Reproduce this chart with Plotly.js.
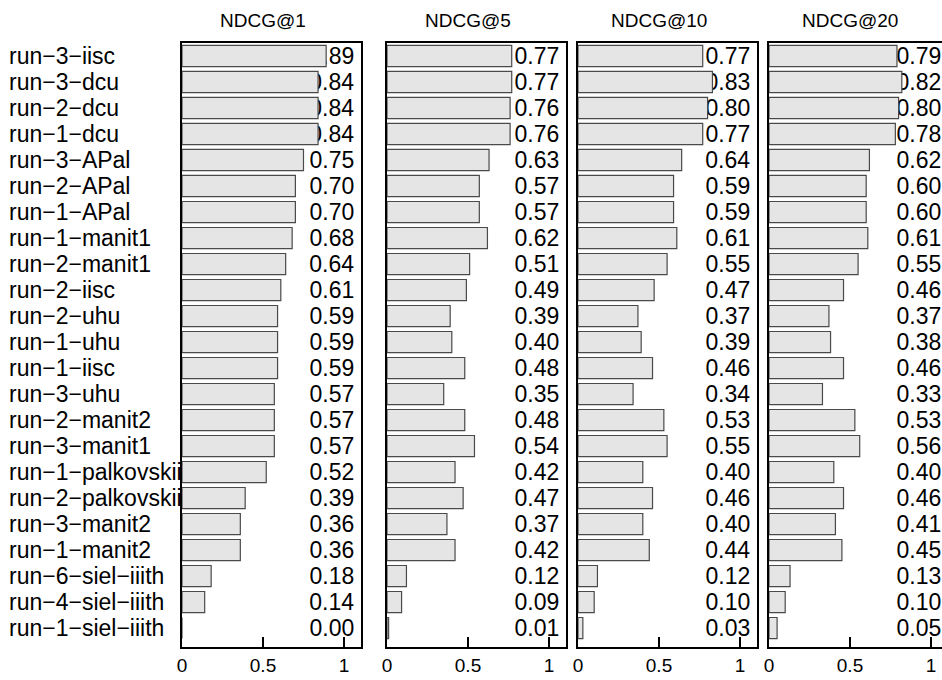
<!DOCTYPE html>
<html>
<head>
<meta charset="utf-8">
<script src="https://cdn.plot.ly/plotly-3.0.1.min.js"></script>
<style>
html,body{margin:0;padding:0;overflow:hidden;background:#fff;}
#chart{width:950px;height:680px;}
</style>
</head>
<body>
<div id="chart"></div>
<script>
const categories = [
  "run\u22123\u2212iisc","run\u22123\u2212dcu","run\u22122\u2212dcu","run\u22121\u2212dcu",
  "run\u22123\u2212APal","run\u22122\u2212APal","run\u22121\u2212APal","run\u22121\u2212manit1",
  "run\u22122\u2212manit1","run\u22122\u2212iisc","run\u22122\u2212uhu","run\u22121\u2212uhu",
  "run\u22121\u2212iisc","run\u22123\u2212uhu","run\u22122\u2212manit2","run\u22123\u2212manit1",
  "run\u22121\u2212palkovskii","run\u22122\u2212palkovskii","run\u22123\u2212manit2","run\u22121\u2212manit2",
  "run\u22126\u2212siel\u2212iiith","run\u22124\u2212siel\u2212iiith","run\u22121\u2212siel\u2212iiith"
];
const ndcg1  = [0.89,0.84,0.84,0.84,0.75,0.70,0.70,0.68,0.64,0.61,0.59,0.59,0.59,0.57,0.57,0.57,0.52,0.39,0.36,0.36,0.18,0.14,0.00];
const ndcg5  = [0.77,0.77,0.76,0.76,0.63,0.57,0.57,0.62,0.51,0.49,0.39,0.40,0.48,0.35,0.48,0.54,0.42,0.47,0.37,0.42,0.12,0.09,0.01];
const ndcg10 = [0.77,0.83,0.80,0.77,0.64,0.59,0.59,0.61,0.55,0.47,0.37,0.39,0.46,0.34,0.53,0.55,0.40,0.46,0.40,0.44,0.12,0.10,0.03];
const ndcg20 = [0.79,0.82,0.80,0.78,0.62,0.60,0.60,0.61,0.55,0.46,0.37,0.38,0.46,0.33,0.53,0.56,0.40,0.46,0.41,0.45,0.13,0.10,0.05];
const panelTitles = ["NDCG@1","NDCG@5","NDCG@10","NDCG@20"];
const tickVals = [0,0.5,1];
const tickText = ["0","0.5","1"];

const series = [ndcg1, ndcg5, ndcg10, ndcg20];
const W = 950, H = 680;
const panelPx = [[182,361],[387,566],[578,757],[769,948]];
const xRange = [0, 1.105];
const labelX = 1.082;
const yDom = [1 - 647/H, 1 - 43/H];
const yRange = [22.73, -0.5];
const FONT = "Liberation Sans, Arial, sans-serif";

const traces = [];
const layout = {
  width: W, height: H,
  margin: {l:0, r:0, t:0, b:0},
  paper_bgcolor: "#fff", plot_bgcolor: "#fff",
  showlegend: false, barmode: "overlay",
  font: {family: FONT, color: "#000"},
  annotations: []
};

series.forEach((vals, i) => {
  const n = i === 0 ? "" : String(i+1);
  const xa = "x" + n, ya = "y" + n;
  // value labels (drawn first so bars sit on top of them)
  traces.push({
    type: "bar", orientation: "h", xaxis: xa, yaxis: ya,
    y: categories, x: categories.map(() => labelX),
    width: 0.81,
    text: vals.map(v => v.toFixed(2)),
    textposition: "inside", insidetextanchor: "end", textangle: 0,
    constraintext: "none",
    insidetextfont: {family: FONT, size: 23, color: "#000"},
    marker: {color: "rgba(0,0,0,0)", line: {width: 0}},
    hoverinfo: "skip"
  });
  traces.push({
    type: "bar", orientation: "h", xaxis: xa, yaxis: ya,
    y: categories, x: vals, width: 0.81,
    marker: {color: "#e5e5e5", line: {color: "#4a4a4a", width: 1.2}},
    hoverinfo: "x+y"
  });
  layout["xaxis" + n] = {
    domain: [panelPx[i][0]/W, panelPx[i][1]/W],
    range: xRange, anchor: ya,
    tickmode: "array", tickvals: tickVals, ticktext: tickText,
    ticks: "inside", ticklen: 10, tickwidth: 1.5, tickcolor: "#000",
    showline: true, linewidth: 2.2, linecolor: "#000", mirror: true,
    showgrid: false, zeroline: false,
    tickfont: {family: FONT, size: 19, color: "#000"}
  };
  layout["yaxis" + n] = {
    domain: yDom, anchor: xa,
    type: "category", categoryorder: "array", categoryarray: categories,
    range: yRange,
    showline: true, linewidth: 2.2, linecolor: "#000", mirror: true,
    showgrid: false, zeroline: false, ticks: "",
    showticklabels: false
  };
  layout.annotations.push({
    xref: xa, yref: "paper", x: 0.5, y: 1 - 20/H,
    xanchor: "center", yanchor: "middle", showarrow: false,
    text: panelTitles[i], font: {family: FONT, size: 19, color: "#000"}
  });
});

// left-aligned category labels
categories.forEach(c => {
  layout.annotations.push({
    xref: "paper", yref: "y", x: 8/W, y: c,
    xanchor: "left", yanchor: "middle", showarrow: false,
    borderpad: 0, text: c, font: {family: FONT, size: 23, color: "#000"}
  });
});

Plotly.newPlot("chart", traces, layout, {displayModeBar: false, staticPlot: true});
</script>
</body>
</html>
